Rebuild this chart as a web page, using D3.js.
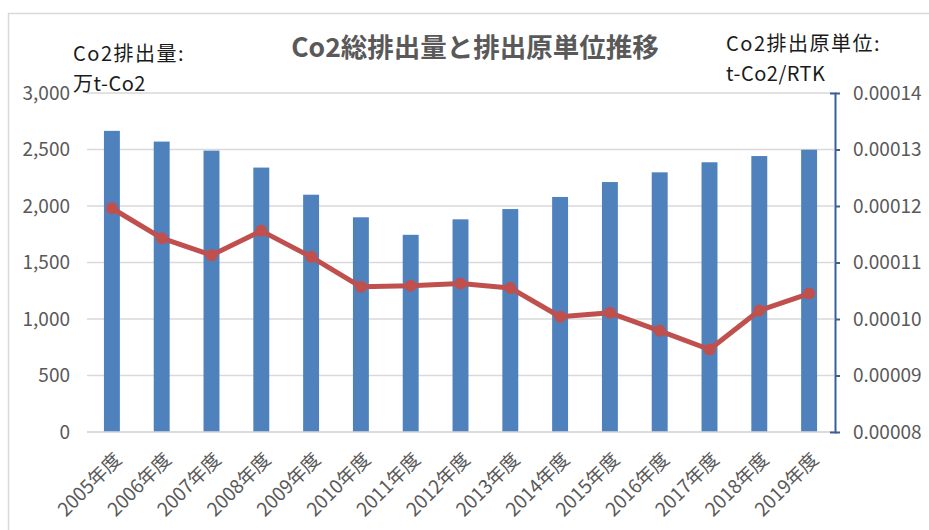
<!DOCTYPE html>
<html><head><meta charset="utf-8">
<script src="https://cdn.jsdelivr.net/npm/d3@7"></script>
<style>
body{margin:0;background:#fff;}
text{font-family:"Noto Sans CJK JP","Noto Sans",sans-serif;}
</style></head>
<body><svg id="c" width="929" height="530"></svg>
<script>
const years = ["2005年度","2006年度","2007年度","2008年度","2009年度","2010年度","2011年度","2012年度","2013年度","2014年度","2015年度","2016年度","2017年度","2018年度","2019年度"];
const emissions = [2665,2570,2490,2340,2100,1900,1745,1882,1973,2080,2212,2298,2387,2442,2498];
const intensity = [0.0001196,0.0001143,0.0001113,0.0001156,0.0001110,0.0001057,0.0001059,0.0001063,0.0001055,0.0001004,0.0001011,0.0000979,0.0000946,0.0001015,0.0001045];
const leftTicks = [0,500,1000,1500,2000,2500,3000];
const rightTicks = [0.00008,0.00009,0.00010,0.00011,0.00012,0.00013,0.00014];
const title = "Co2総排出量と排出原単位推移";
const leftTitle = ["Co2排出量:","万t-Co2"];
const rightTitle = ["Co2排出原単位:","t-Co2/RTK"];

const svg = d3.select("#c");
const L = 87, R = 834, T = 93, B = 432;

svg.append("rect").attr("x",8.5).attr("y",13.5).attr("width",1000).attr("height",600)
  .attr("fill","#fff").attr("stroke","#d9d9d9").attr("stroke-width",1.5);

const x = d3.scaleBand().domain(years).range([L,R]).padding(0);
const yL = d3.scaleLinear().domain([0,3000]).range([B,T]);
const yR = d3.scaleLinear().domain([0.00008,0.00014]).range([B,T]);

// gridlines
svg.append("g").selectAll("line").data(leftTicks).join("line")
  .attr("x1",L).attr("x2",R).attr("y1",d=>yL(d)).attr("y2",d=>yL(d))
  .attr("stroke","#d9d9d9").attr("stroke-width",1.5);

// left axis labels
const gl = svg.append("g").attr("transform",`translate(${L},0)`)
  .call(d3.axisLeft(yL).tickValues(leftTicks).tickFormat(d3.format(",")).tickSize(0).tickPadding(17));
gl.select(".domain").remove();
gl.selectAll("text").attr("fill","#595959").style("font-size","19px").style("font-family","'Noto Sans CJK JP'");

// bars
const bw = x.bandwidth()*0.32;
svg.append("g").selectAll("rect").data(years).join("rect")
  .attr("x",(d)=>x(d)+x.bandwidth()/2-bw/2)
  .attr("y",(d,i)=>yL(emissions[i]))
  .attr("width",bw)
  .attr("height",(d,i)=>yL(0)-yL(emissions[i]))
  .attr("fill","#4f81bd");

// bottom axis line
svg.append("line").attr("x1",L).attr("x2",R).attr("y1",B).attr("y2",B).attr("stroke","#d9d9d9").attr("stroke-width",1.5);

// right axis
const gr = svg.append("g").attr("transform",`translate(${R+1},0)`)
  .call(d3.axisRight(yR).tickValues(rightTicks).tickFormat(d3.format(".5f")).tickSize(5).tickSizeOuter(-5).tickPadding(13));
gr.select(".domain").attr("stroke","#3a5f94").attr("stroke-width",2);
gr.selectAll(".tick line").attr("stroke","#3a5f94").attr("stroke-width",2);
gr.selectAll("text").attr("fill","#595959").style("font-size","19px");

// x labels
svg.append("g").selectAll("text").data(years).join("text")
  .attr("transform",d=>`translate(${x(d)+x.bandwidth()/2+6},${B+24}) rotate(-45)`)
  .attr("text-anchor","end").attr("dy","0.35em")
  .attr("fill","#595959").style("font-size","19px").text(d=>d);

// line
const cx = (d)=>x(d)+x.bandwidth()/2;
svg.append("path").datum(years)
  .attr("d",d3.line().x(d=>cx(d)).y((d,i)=>yR(intensity[i])))
  .attr("fill","none").attr("stroke","#c0504d").attr("stroke-width",5).attr("stroke-linejoin","round");
svg.append("g").selectAll("circle").data(years).join("circle")
  .attr("cx",d=>cx(d)).attr("cy",(d,i)=>yR(intensity[i])).attr("r",6).attr("fill","#c0504d");

// titles
svg.append("text").attr("x",475).attr("y",57).attr("text-anchor","middle")
  .attr("fill","#595959").style("font-size","26.5px").style("font-weight","bold").text(title);
svg.selectAll(".lt").data(leftTitle).join("text").attr("class","lt")
  .attr("x",73).attr("y",(d,i)=>61+i*30).attr("fill","#1a1a1a").style("font-size","20px")
  .style("letter-spacing",(d,i)=>i===0?"1.5px":"0.5px").text(d=>d);
svg.selectAll(".rt").data(rightTitle).join("text").attr("class","rt")
  .attr("x",726).attr("y",(d,i)=>51+i*30).attr("fill","#1a1a1a").style("font-size","20px")
  .style("letter-spacing",(d,i)=>i===0?"1.5px":"0.5px").text(d=>d);
</script></body></html>
